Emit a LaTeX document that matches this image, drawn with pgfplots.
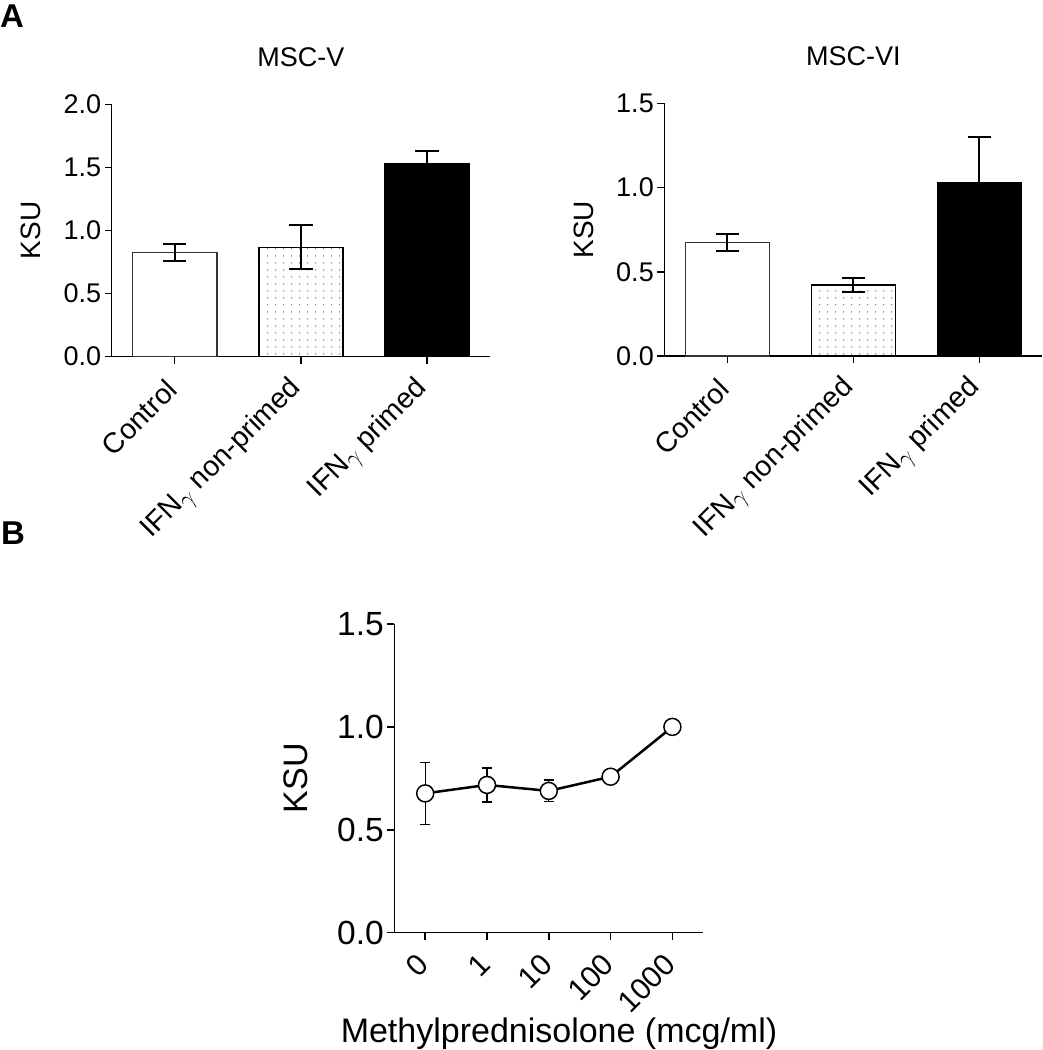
\documentclass[border=0pt]{standalone}
\usepackage{fontspec}
\setmainfont{Liberation Sans}
\usepackage{pgfplots}
\pgfplotsset{compat=1.18}
\usetikzlibrary{patterns.meta}

\tikzdeclarepattern{
  name=gpdots, type=uncolored,
  bounding box={(0pt,0pt) and (8pt,7pt)},
  tile size={(8pt,7pt)},
  code={\fill (4pt,3.5pt) circle (0.9pt);}
}

\newcommand{\fs}[1]{\fontsize{#1}{#1}\selectfont}
\newcommand{\ifng}{IFN\raisebox{-4pt}{\fs{24pt}$\gamma$}}

\pgfplotsset{
  gp/.style={
    scale only axis,
    axis lines=left,
    axis line style={-, line width=1.5pt, black},
    tick style={line width=1.5pt, black},
    major tick length=7pt,
    tick align=outside,
    /pgf/number format/assume math mode=true,
    yticklabel style={/pgf/number format/fixed, /pgf/number format/fixed zerofill, /pgf/number format/precision=1},
    clip=false,
  },
  gpbar/.style={
    gp, ymin=0, xmin=-0.5, xmax=2.5,
    xtick={0,1,2},
    xticklabels={Control, {\ifng{} non-primed}, {\ifng{} primed}},
    xticklabel style={yshift=-21pt, xshift=-3pt, rotate=45, anchor=east, inner sep=0pt, font=\fs{28.5pt}},
    yticklabel style={font=\fs{27pt}},
    title style={font=\fs{27pt}, at={(axis description cs:0.5,1)}, anchor=base, yshift=31.6pt},
    ylabel style={font=\fs{28pt}, at={(axis description cs:-0.213,0.5)}, anchor=center},
    ylabel={KSU},
  },
  ctl/.style={ybar, bar shift=0pt, bar width=84pt, fill=white, draw=black!80, line width=1.5pt,
    error bars/.cd, y dir=both, y explicit,
    error bar style={line width=2pt, black},
    error mark options={rotate=90, mark size=11.7pt, line width=2pt, black}},
  dotbar/.style={ybar, bar shift=0pt, bar width=84pt, fill=white, draw=black, line width=1.5pt,
    postaction={pattern=gpdots, pattern color=black!45},
    error bars/.cd, y dir=both, y explicit,
    error bar style={line width=2pt, black},
    error mark options={rotate=90, mark size=11.7pt, line width=2pt, black}},
  blkbar/.style={ybar, bar shift=0pt, bar width=84pt, fill=black, draw=black, line width=1.5pt,
    error bars/.cd, y dir=both, y explicit,
    error bar style={line width=2pt, black},
    error mark options={rotate=90, mark size=11.7pt, line width=2pt, black}},
}

\begin{document}
\begin{tikzpicture}
\useasboundingbox (0pt,0pt) rectangle (1043pt,1050pt);

\node[anchor=base west, inner sep=0pt, font=\fs{33pt}\bfseries] at (0pt,1022pt) {A};
\node[anchor=base west, inner sep=0pt, font=\fs{33pt}\bfseries] at (1pt,505pt) {B};

% Panel A left
\begin{axis}[gpbar, at={(111.7pt,693.3pt)}, anchor=south west,
  width=378.3pt, height=252.4pt, ymax=2, ytick={0,0.5,1,1.5,2},
  title={MSC-V}]
\addplot[ctl] coordinates {(0,0.827) +- (0,0.068)};
\addplot[dotbar] coordinates {(1,0.867) +- (0,0.176)};
\addplot[blkbar] coordinates {(2,1.525) +- (0,0.105)};
\end{axis}

% Panel A right
\begin{axis}[gpbar, at={(664.3pt,694pt)}, anchor=south west,
  width=378pt, height=252.7pt, ymax=1.5, ytick={0,0.5,1,1.5},
  title={MSC-VI}]
\addplot[ctl] coordinates {(0,0.673) +- (0,0.050)};
\addplot[dotbar] coordinates {(1,0.420) +- (0,0.042)};
\addplot[blkbar] coordinates {(2,1.031) +- (0,0.268)};
\end{axis}

% Panel B
\begin{axis}[gp, at={(394.3pt,117.3pt)}, anchor=south west,
  width=309pt, height=308.7pt, ymin=0, ymax=1.5, ytick={0,0.5,1,1.5},
  xmin=-0.5, xmax=4.5, xtick={0,1,2,3,4}, xticklabels={0,1,10,100,1000},
  xticklabel style={yshift=-20pt, xshift=-2pt, rotate=45, anchor=east, inner sep=0pt, font=\fs{30pt}},
  yticklabel style={font=\fs{33.5pt}},
  ylabel={KSU}, ylabel style={font=\fs{34pt}, at={(axis description cs:-0.319,0.5)}, anchor=center},
  xlabel={Methylprednisolone (mcg/ml)},
  xlabel style={font=\fs{34pt}, inner sep=0pt, at={(axis description cs:0.533,-0.326)}, anchor=center}]
\addplot[black, line width=2.5pt, mark=*, mark size=8.5pt,
  mark options={fill=white, draw=black, line width=1.5pt},
  error bars/.cd, y dir=both, y explicit,
  error bar style={line width=1.3pt, black},
  error mark options={rotate=90, mark size=5pt, line width=1.3pt, black}]
  coordinates {(0,0.677) +- (0,0.150) (1,0.718) +- (0,0.083) (2,0.689) +- (0,0.053) (3,0.758) +- (0,0) (4,1.0) +- (0,0)};
\end{axis}
\end{tikzpicture}
\end{document}
